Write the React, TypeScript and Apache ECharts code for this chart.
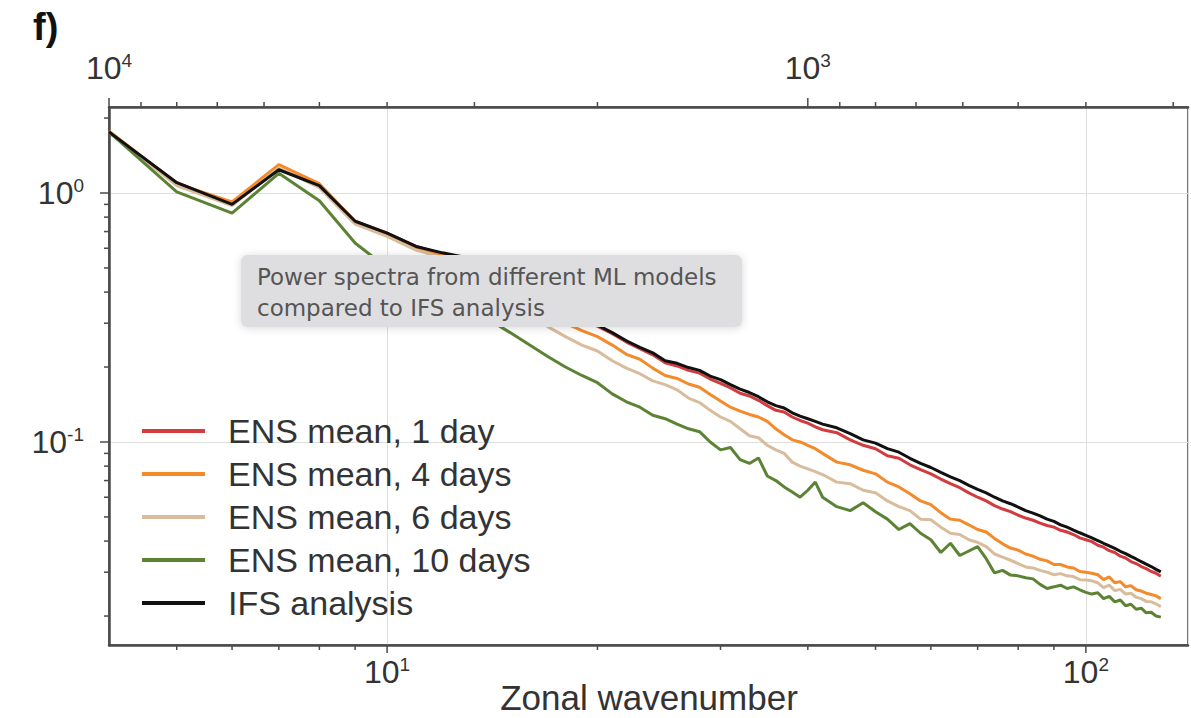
import React, { useEffect, useRef } from "react";
import * as echarts from "echarts";

// ---------- data ----------
const WAVENUMBERS = [
  4, 5, 6, 7, 8, 9, 10, 11, 12, 13, 14, 15, 16, 17, 18, 19, 20, 21, 22, 23,
  24, 25, 26, 27, 28, 29, 30, 31, 32, 33, 34, 35, 36, 37, 38, 39, 40, 41,
  42, 44, 46, 48, 50, 52, 54, 56, 58, 60, 62, 64, 66, 68, 70, 72, 74, 76, 78, 80,
  82, 84, 86, 88, 90, 92, 94, 96, 98, 100, 102, 104, 106, 108, 110, 112, 114, 116,
  118, 120, 122, 124, 126, 128,
];

const ENS_1_DAY = [
  1.75, 1.10, 0.90, 1.25, 1.07, 0.77, 0.69, 0.61, 0.57, 0.545,
  0.50, 0.455, 0.415, 0.38, 0.35, 0.318, 0.292, 0.272, 0.252, 0.237,
  0.224, 0.208, 0.202, 0.194, 0.189, 0.179, 0.172, 0.165, 0.157, 0.153,
  0.147, 0.140, 0.134, 0.132, 0.126, 0.122, 0.119, 0.115,
  0.112, 0.109, 0.102, 0.097, 0.094, 0.088, 0.086, 0.081, 0.0775, 0.0745,
  0.071, 0.068, 0.0655, 0.0625, 0.060, 0.058, 0.0555, 0.0538, 0.0525, 0.0508,
  0.0495, 0.0485, 0.0472, 0.0462, 0.0455, 0.0442, 0.0435, 0.0425, 0.0412, 0.0405,
  0.0398, 0.0385, 0.0378, 0.0366, 0.0360, 0.0348, 0.0342, 0.0331, 0.0325, 0.0316,
  0.0310, 0.0302, 0.0297, 0.0289,
];

const ENS_4_DAYS = [
  1.77, 1.09, 0.92, 1.30, 1.09, 0.77, 0.68, 0.60, 0.56, 0.53,
  0.47, 0.42, 0.38, 0.335, 0.30, 0.28, 0.265, 0.245, 0.225, 0.215,
  0.198, 0.185, 0.180, 0.171, 0.166, 0.155, 0.146, 0.138, 0.133, 0.129,
  0.126, 0.121, 0.113, 0.107, 0.102, 0.100, 0.097, 0.094,
  0.090, 0.083, 0.081, 0.077, 0.0745, 0.069, 0.066, 0.062, 0.058, 0.056,
  0.052, 0.049, 0.0485, 0.0465, 0.0445, 0.0435, 0.041, 0.039, 0.0375, 0.0368,
  0.0355, 0.0348, 0.0338, 0.0333, 0.0322, 0.0322, 0.0315, 0.0312, 0.0302, 0.0300,
  0.0297, 0.0293, 0.0280, 0.0287, 0.0272, 0.0275, 0.0262, 0.0265, 0.0255, 0.0252,
  0.0247, 0.0244, 0.0241, 0.0235,
];

const ENS_6_DAYS = [
  1.76, 1.07, 0.89, 1.26, 1.05, 0.75, 0.67, 0.59, 0.55, 0.51,
  0.44, 0.38, 0.335, 0.29, 0.265, 0.245, 0.232, 0.212, 0.198, 0.188,
  0.176, 0.170, 0.162, 0.150, 0.144, 0.134, 0.126, 0.121, 0.113, 0.106,
  0.104, 0.097, 0.093, 0.090, 0.083, 0.080, 0.078, 0.076,
  0.074, 0.069, 0.068, 0.064, 0.0625, 0.058, 0.055, 0.053, 0.049, 0.0487,
  0.0455, 0.043, 0.0425, 0.0405, 0.0395, 0.038, 0.0355, 0.0345, 0.0335, 0.0325,
  0.0315, 0.0312, 0.0305, 0.0300, 0.0293, 0.0296, 0.0290, 0.0288, 0.0280, 0.0279,
  0.0277, 0.0272, 0.0260, 0.0266, 0.0253, 0.0256, 0.0245, 0.0247, 0.0238, 0.0235,
  0.0229, 0.0228, 0.0224, 0.0218,
];

const ENS_10_DAYS = [
  1.76, 1.01, 0.83, 1.20, 0.93, 0.63, 0.50, 0.44, 0.39, 0.35,
  0.31, 0.275, 0.245, 0.22, 0.20, 0.185, 0.173, 0.156, 0.145, 0.138,
  0.128, 0.124, 0.118, 0.113, 0.110, 0.100, 0.093, 0.095, 0.085, 0.082,
  0.0863, 0.073, 0.070, 0.066, 0.063, 0.060, 0.064, 0.069,
  0.060, 0.055, 0.053, 0.057, 0.0525, 0.049, 0.0445, 0.047, 0.043, 0.0405,
  0.036, 0.0392, 0.035, 0.0365, 0.038, 0.034, 0.0298, 0.0305, 0.0292, 0.0290,
  0.0285, 0.0282, 0.0268, 0.0258, 0.0262, 0.0266, 0.0258, 0.0262, 0.0255, 0.0249,
  0.0245, 0.0248, 0.0235, 0.0240, 0.0228, 0.0232, 0.0220, 0.0223, 0.0213, 0.0215,
  0.0206, 0.0207, 0.0200, 0.0198,
];

const IFS_ANALYSIS = [
  1.76, 1.10, 0.90, 1.24, 1.07, 0.77, 0.69, 0.61, 0.575, 0.55,
  0.50, 0.46, 0.42, 0.385, 0.355, 0.32, 0.295, 0.275, 0.255, 0.24,
  0.228, 0.212, 0.207, 0.199, 0.194, 0.184, 0.178, 0.170, 0.163, 0.158,
  0.152, 0.145, 0.140, 0.137, 0.131, 0.127, 0.124, 0.121,
  0.118, 0.114, 0.108, 0.102, 0.099, 0.094, 0.091, 0.086, 0.082, 0.079,
  0.0755, 0.0725, 0.070, 0.067, 0.0645, 0.0625, 0.060, 0.058, 0.0565, 0.0548,
  0.053, 0.0518, 0.0505, 0.049, 0.048, 0.0465, 0.0455, 0.0443, 0.0432, 0.0422,
  0.0412, 0.0402, 0.0392, 0.0383, 0.0374, 0.0364, 0.0356, 0.0347, 0.0339, 0.0331,
  0.0323, 0.0316, 0.0308, 0.0301,
];

const SERIES_NAMES = [
  "ENS mean, 1 day",
  "ENS mean, 4 days",
  "ENS mean, 6 days",
  "ENS mean, 10 days",
  "IFS analysis",
];
const SERIES_VALUES = [ENS_1_DAY, ENS_4_DAYS, ENS_6_DAYS, ENS_10_DAYS, IFS_ANALYSIS];
const SERIES_COLORS = ["#d23c3f", "#f48a2a", "#d9bc9c", "#5c8334", "#111111"];

// axis ranges
const K_MIN = 4;
const K_MAX = 140;
const Y_MIN = 0.0153;
const Y_MAX = 2.215;
const EARTH_KM = 40000; // top axis: wavelength in km
const LAMBDA_MIN = EARTH_KM / K_MAX;
const LAMBDA_MAX = EARTH_KM / K_MIN;

// tick values
const Y_MAJOR_TICKS = [0.1, 1];
const Y_MINOR_TICKS = [0.02, 0.03, 0.04, 0.05, 0.06, 0.07, 0.08, 0.09, 0.2, 0.3, 0.4, 0.5, 0.6, 0.7, 0.8, 0.9, 2];
const X_MAJOR_TICKS = [10, 100];
const X_MINOR_TICKS = [5, 6, 7, 8, 9, 20, 30, 40, 50, 60, 70, 80, 90];
const TOP_MAJOR_TICKS = [1000, 10000];
const TOP_MINOR_TICKS = [9000, 8000, 7000, 6000, 5000, 4000, 3000, 2000, 900, 800, 700, 600, 500, 400, 300];

const AXIS_COLOR = "#4a4a4a";
const FONT = '"Liberation Sans", Arial, Helvetica, sans-serif';

function powLabel(value: number): string {
  const l = Math.log10(value);
  const e = Math.round(l);
  if (Math.abs(l - e) > 1e-6) return "";
  return `{b|10}{s|${e}}`;
}

const labelRich = {
  b: { fontSize: 32, fontFamily: FONT, color: "#333", lineHeight: 34 },
  s: { fontSize: 19, fontFamily: FONT, color: "#333", verticalAlign: "top", lineHeight: 34 },
};

const axisLabelBase = { fontSize: 32, fontFamily: FONT, color: "#333", formatter: powLabel, rich: labelRich };

export default function App() {
  const ref = useRef<HTMLDivElement>(null);

  useEffect(() => {
    if (!ref.current) return;
    const chart = echarts.init(ref.current, undefined, { renderer: "svg" });

    const lineSeries = SERIES_NAMES.map((name, i) => ({
      name,
      type: "line",
      xAxisIndex: 0,
      yAxisIndex: 0,
      data: WAVENUMBERS.map((k, j) => [k, SERIES_VALUES[i][j]]),
      showSymbol: false,
      symbol: "none",
      lineStyle: { color: SERIES_COLORS[i], width: 3 },
      itemStyle: { color: SERIES_COLORS[i] },
      z: 2 + i,
    }));

    const tickStyle = { stroke: AXIS_COLOR, lineWidth: 1.5 };

    const yTickSeries = {
      type: "custom",
      xAxisIndex: 0,
      yAxisIndex: 0,
      silent: true,
      clip: false,
      z: 10,
      encode: { x: 0, y: 1 },
      data: [
        ...Y_MAJOR_TICKS.map((v) => [K_MIN, v, 9]),
        ...Y_MINOR_TICKS.map((v) => [K_MIN, v, 5]),
      ],
      renderItem: (_p: any, api: any) => {
        const p = api.coord([api.value(0), api.value(1)]);
        const len = api.value(2);
        return { type: "line", shape: { x1: p[0] - len, y1: p[1], x2: p[0], y2: p[1] }, style: tickStyle };
      },
    };

    const xTickSeries = {
      type: "custom",
      xAxisIndex: 0,
      yAxisIndex: 0,
      silent: true,
      clip: false,
      z: 10,
      encode: { x: 0, y: 1 },
      data: [
        ...X_MAJOR_TICKS.map((k) => [k, Y_MIN, 8]),
        ...X_MINOR_TICKS.map((k) => [k, Y_MIN, 5]),
      ],
      renderItem: (_p: any, api: any) => {
        const p = api.coord([api.value(0), api.value(1)]);
        const len = api.value(2);
        return { type: "line", shape: { x1: p[0], y1: p[1], x2: p[0], y2: p[1] + len }, style: tickStyle };
      },
    };

    const topTickSeries = {
      type: "custom",
      xAxisIndex: 1,
      yAxisIndex: 0,
      silent: true,
      clip: false,
      z: 10,
      encode: { x: 0, y: 1 },
      data: [
        ...TOP_MAJOR_TICKS.map((l) => [l, Y_MAX, 9]),
        ...TOP_MINOR_TICKS.map((l) => [l, Y_MAX, 5]),
      ],
      renderItem: (_p: any, api: any) => {
        const p = api.coord([api.value(0), api.value(1)]);
        const len = api.value(2);
        return { type: "line", shape: { x1: p[0], y1: p[1], x2: p[0], y2: p[1] - len }, style: tickStyle };
      },
    };

    const option: any = {
      animation: false,
      backgroundColor: "#ffffff",
      grid: {
        left: 109,
        right: 1,
        top: 107,
        bottom: 73,
        show: true,
        borderColor: AXIS_COLOR,
        borderWidth: 1.5,
        backgroundColor: "transparent",
      },
      legend: {
        orient: "vertical",
        left: 142,
        top: 414,
        padding: 0,
        itemWidth: 63,
        itemHeight: 4,
        itemGap: 9,
        icon: "rect",
        data: SERIES_NAMES,
        textStyle: { fontSize: 34, fontFamily: FONT, color: "#333", padding: [0, 0, 0, 18] },
      },
      xAxis: [
        {
          type: "log",
          min: K_MIN,
          max: K_MAX,
          position: "bottom",
          axisLine: { show: true, lineStyle: { color: AXIS_COLOR, width: 2.5 } },
          axisTick: { show: false },
          minorTick: { show: false },
          splitLine: { show: true, lineStyle: { color: "#dedede", width: 1 } },
          axisLabel: { ...axisLabelBase, margin: 10 },
        },
        {
          type: "log",
          min: LAMBDA_MIN,
          max: LAMBDA_MAX,
          inverse: true,
          position: "top",
          axisLine: { show: true, lineStyle: { color: AXIS_COLOR, width: 2.5 } },
          axisTick: { show: false },
          splitLine: { show: false },
          axisLabel: { ...axisLabelBase, margin: 22 },
        },
      ],
      yAxis: [
        {
          type: "log",
          min: Y_MIN,
          max: Y_MAX,
          axisLine: { show: true, lineStyle: { color: AXIS_COLOR, width: 2.5 } },
          axisTick: { show: false },
          splitLine: { show: true, lineStyle: { color: "#dedede", width: 1 } },
          axisLabel: { ...axisLabelBase, margin: 25 },
        },
      ],
      series: [...lineSeries, yTickSeries, xTickSeries, topTickSeries],
      graphic: [
        {
          type: "text",
          x: 33,
          y: 8,
          z: 100,
          style: { text: "f)", font: `bold 38px ${FONT}`, fill: "#111" },
        },
        {
          type: "text",
          x: 649,
          y: 697,
          z: 100,
          style: {
            text: "Zonal wavenumber",
            font: `35px ${FONT}`,
            fill: "#333",
            align: "center",
            verticalAlign: "middle",
          },
        },
        {
          type: "group",
          z: 100,
          children: [
            {
              type: "rect",
              z: 100,
              shape: { x: 241, y: 255, width: 501, height: 72, r: 6 },
              style: {
                fill: "#dedee0",
                shadowBlur: 8,
                shadowColor: "rgba(0,0,0,0.15)",
                shadowOffsetY: 1,
              },
            },
            {
              type: "text",
              z: 101,
              x: 257,
              y: 277,
              style: {
                text: "Power spectra from different ML models",
                font: '23px "DejaVu Sans", sans-serif',
                fill: "#555",
                verticalAlign: "middle",
              },
            },
            {
              type: "text",
              z: 101,
              x: 257,
              y: 308,
              style: {
                text: "compared to IFS analysis",
                font: '23px "DejaVu Sans", sans-serif',
                fill: "#555",
                verticalAlign: "middle",
              },
            },
          ],
        },
      ],
    };

    chart.setOption(option);
    return () => chart.dispose();
  }, []);

  return (
    <div
      ref={ref}
      style={{ position: "fixed", left: 0, top: 0, width: 1191, height: 718, background: "#fff" }}
    />
  );
}
